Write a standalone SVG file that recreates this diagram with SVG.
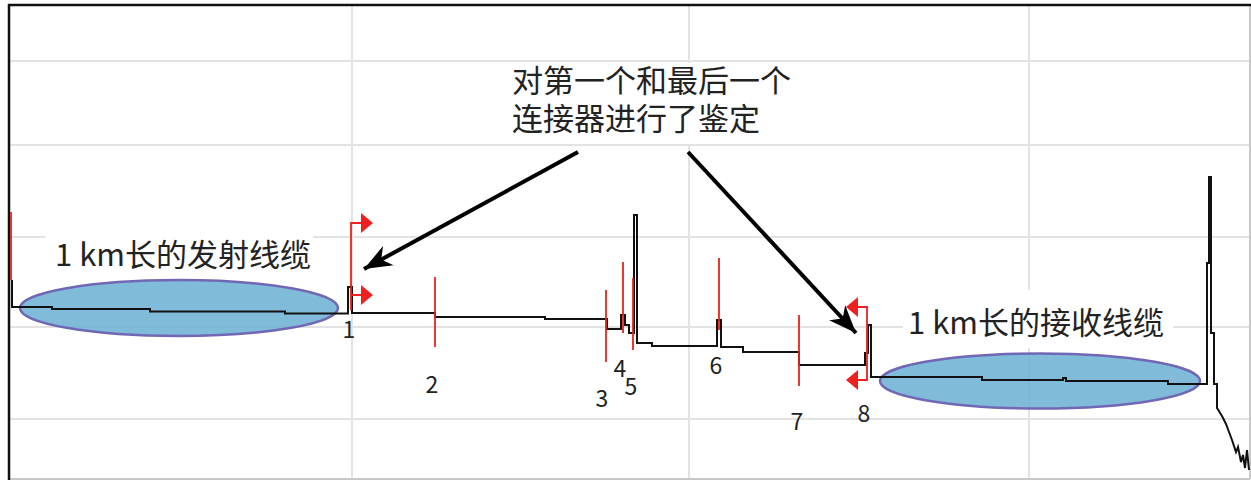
<svg xmlns="http://www.w3.org/2000/svg" width="1251" height="481" viewBox="0 0 1251 481">
<style>
.grid{stroke:#e3e3e3;stroke-width:2;fill:none}
.trace{stroke:#111;stroke-width:2;fill:none;stroke-linejoin:miter}
.red{stroke:#ee2020;stroke-width:1.8;fill:none}
.flag{fill:#ee2020}
.cable{fill:#6aafd4;fill-opacity:0.85;stroke:#7068b4;stroke-width:2.5}
.big{font-family:"Noto Sans CJK SC","Noto Sans",sans-serif;font-size:31px;fill:#222}
.num{font-family:"Noto Sans CJK SC","Noto Sans",sans-serif;font-size:23px;fill:#222;text-anchor:middle}
.arrow{stroke:#000;stroke-width:4;fill:none}
</style>
<defs>
<marker id="ah" markerUnits="userSpaceOnUse" markerWidth="30" markerHeight="24" viewBox="-24 -10 26 20" refX="0" refY="0" orient="auto">
<path d="M0,0 L-24,-9.5 L-17,0 L-24,9.5 Z" fill="#000"/>
</marker>
</defs>
<rect x="0" y="0" width="1251" height="481" fill="#fff"/>
<g id="grid">
<path class="grid" d="M9,61 H1250 M9,145 H1250 M9,237 H1250 M9,327 H1250 M9,419 H1250 M352,5 V479 M689,5 V479 M1029,5 V479"/>
<path d="M9,479 H1250 M1250,5 V479" stroke="#c8c8c8" stroke-width="2" fill="none"/>
<path d="M9,480 V5 H1251" stroke="#111" stroke-width="2.5" fill="none"/>
</g>
<g id="launch-cable">
<ellipse class="cable" cx="179" cy="308" rx="159" ry="28"/>
</g>
<g id="receive-cable">
<ellipse class="cable" cx="1040" cy="381" rx="160" ry="27.5"/>
</g>
<g id="trace">
<path class="red" d="M11,212 V280"/>
<path class="trace" d="M12,280 V307 H52 V309 H150 V311.5 H285 V313.5 H348 V287 H352 V313 H435 V317 H545 V319 H607 V329 H621 V315 H625 V325 H629 V333 H634 V215 H637 V343 H652 V346 H717 V320 H721 V347 H743 V352 H799 V365 H865 V353 H868 V325 H871 V377 H982 V380 H1063 V378 H1066 V381 H1168 V384 H1207 V263 H1209 V177 H1211 V333 H1214 V384 H1217 V408 L1222,416 L1226,424 L1229,432 L1232,440 L1236,452 L1238,447 L1241,462 L1243,455 L1245,468 L1247,450 L1249,470"/>
</g>
<g id="marker-1">
<path class="red" d="M361,223 H351 V310 M351,295 H361"/>
<polygon class="flag" points="361,213 373,223 361,233"/>
<polygon class="flag" points="361,285 373,295 361,305"/>
<text class="num" x="349" y="338">1</text>
</g>
<g id="marker-2">
<path class="red" d="M435,277 V347"/>
<text class="num" x="432" y="393">2</text>
</g>
<g id="marker-3">
<path class="red" d="M606,290 V362"/>
<text class="num" x="602" y="407">3</text>
</g>
<g id="marker-4">
<path class="red" d="M623,262 V333"/>
<text class="num" x="620" y="377">4</text>
</g>
<g id="marker-5">
<path class="red" d="M633,278 V350"/>
<text class="num" x="631" y="395">5</text>
</g>
<g id="marker-6">
<path class="red" d="M719,258 V330"/>
<text class="num" x="716" y="374">6</text>
</g>
<g id="marker-7">
<path class="red" d="M799,315 V386"/>
<text class="num" x="797" y="430">7</text>
</g>
<g id="marker-8">
<path class="red" d="M858,307 H867 V380 H858"/>
<polygon class="flag" points="858,297 846,307 858,317"/>
<polygon class="flag" points="858,370 846,380 858,390"/>
<text class="num" x="864" y="422">8</text>
</g>
<g id="label-launch">
<rect x="45" y="232" width="268" height="44" fill="#fff"/>
<text class="big" x="55" y="266">1 km长的发射线缆</text>
</g>
<g id="label-receive">
<rect x="903" y="290" width="270" height="58" fill="#fff"/>
<text class="big" x="908" y="334">1 km长的接收线缆</text>
</g>
<g id="label-note">
<rect x="500" y="63" width="305" height="81" fill="#fff"/>
<text class="big" x="512" y="92" font-size="31.5"><tspan x="512" y="92">对第一个和最后一个</tspan><tspan x="512" y="130">连接器进行了鉴定</tspan></text>
</g>
<g id="connectors">
<line class="arrow" x1="578" y1="152" x2="364" y2="269" marker-end="url(#ah)"/>
<line class="arrow" x1="688" y1="152" x2="856" y2="333" marker-end="url(#ah)"/>
</g>
</svg>
